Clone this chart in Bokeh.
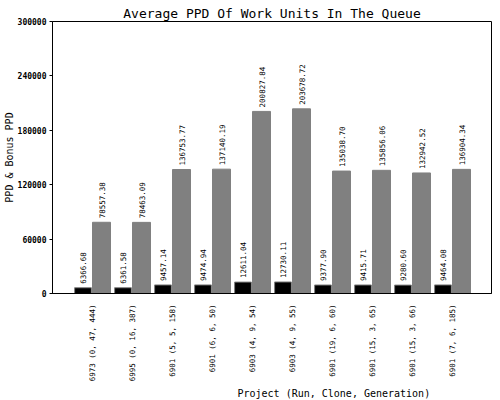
import math
from bokeh.plotting import figure
from bokeh.models import FixedTicker, Title, ColumnDataSource, Range1d
from bokeh.core.properties import value
from bokeh.embed import file_html
from bokeh.resources import INLINE

projects = ["6973 (0, 47, 444)", "6995 (0, 16, 387)", "6901 (5, 5, 158)", "6901 (6, 6, 50)",
            "6903 (4, 9, 54)", "6903 (4, 9, 55)", "6901 (19, 6, 60)", "6901 (15, 3, 65)",
            "6901 (15, 3, 66)", "6901 (7, 6, 185)"]
ppd = [6366.68, 6361.58, 9457.14, 9474.94, 12611.04, 12730.11, 9377.90, 9415.71, 9280.60, 9464.08]
bonus_ppd = [78557.38, 78463.09, 136753.77, 137140.19, 200827.84, 203678.72, 135038.70,
             135856.06, 132942.52, 136904.34]
y_ticks = [0, 60000, 120000, 180000, 240000, 300000]

MONO = "DejaVu Sans Mono"
GRAY = "#808080"

idx = list(range(len(projects)))
src_a = ColumnDataSource(dict(x=[i - 0.2375 for i in idx], top=ppd,
                              lab=["%.2f" % v for v in ppd]))
src_b = ColumnDataSource(dict(x=[i + 0.225 for i in idx], top=bonus_ppd,
                              lab=["%.2f" % v for v in bonus_ppd]))

p = figure(width=500, height=400, output_backend="svg", toolbar_location=None,
           x_range=Range1d(-1, 9.975), y_range=Range1d(0, 300000),
           min_border_left=52, min_border_right=9, min_border_top=21, min_border_bottom=107)

p.title.text = "Average PPD Of Work Units In The Queue"
p.title.align = "center"
p.title.text_font = MONO
p.title.text_font_size = "13px"
p.title.text_font_style = "normal"
p.title.text_color = "black"
p.title.standoff = 2

p.vbar(x="x", top="top", width=0.42, source=src_a, fill_color="black", line_color=GRAY, line_width=1)
p.vbar(x="x", top="top", width=0.45, source=src_b, fill_color=GRAY, line_color=GRAY, line_width=1)

for s in (src_a, src_b):
    p.text(x="x", y="top", text="lab", source=s, angle=math.pi / 2, y_offset=-4,
           text_align="left", text_baseline="middle", text_font=value(MONO),
           text_font_size="7.5px", text_color="black")

p.grid.visible = False
p.outline_line_color = "black"
p.outline_line_width = 1
p.background_fill_color = "white"
p.border_fill_color = "white"

# left-pad with no-break spaces so the rotated labels all end next to the axis
maxlen = max(len(s) for s in projects)
xa = p.xaxis[0]
xa.ticker = FixedTicker(ticks=idx)
xa.major_label_overrides = {i: "\u00a0" * (maxlen - len(projects[i])) + projects[i] for i in idx}
xa.major_label_orientation = math.pi / 2
xa.major_tick_line_color = None
xa.minor_tick_line_color = None
xa.major_label_standoff = 5
xa.major_label_text_font = MONO
xa.major_label_text_font_size = "7.5px"
xa.major_label_text_color = "black"
xa.axis_line_color = "black"

ya = p.yaxis[0]
ya.ticker = FixedTicker(ticks=y_ticks)
ya.major_label_overrides = {t: str(t) for t in y_ticks}
ya.major_tick_in = 0
ya.major_tick_out = 3
ya.minor_tick_line_color = None
ya.major_label_standoff = 3
ya.major_label_text_font = MONO
ya.major_label_text_font_size = "8px"
ya.major_label_text_font_style = "bold"
ya.major_label_text_color = "black"
ya.axis_line_color = "black"
ya.axis_label = "PPD & Bonus PPD"
ya.axis_label_text_font = MONO
ya.axis_label_text_font_size = "10px"
ya.axis_label_text_font_style = "normal"
ya.axis_label_text_color = "black"
ya.axis_label_standoff = 0

p.add_layout(Title(text="Project (Run, Clone, Generation)", align="left", offset=185,
                   text_font=MONO, text_font_size="10px", text_font_style="normal",
                   text_color="black", standoff=2), "below")

open("out.html", "w").write(file_html(p, INLINE))
